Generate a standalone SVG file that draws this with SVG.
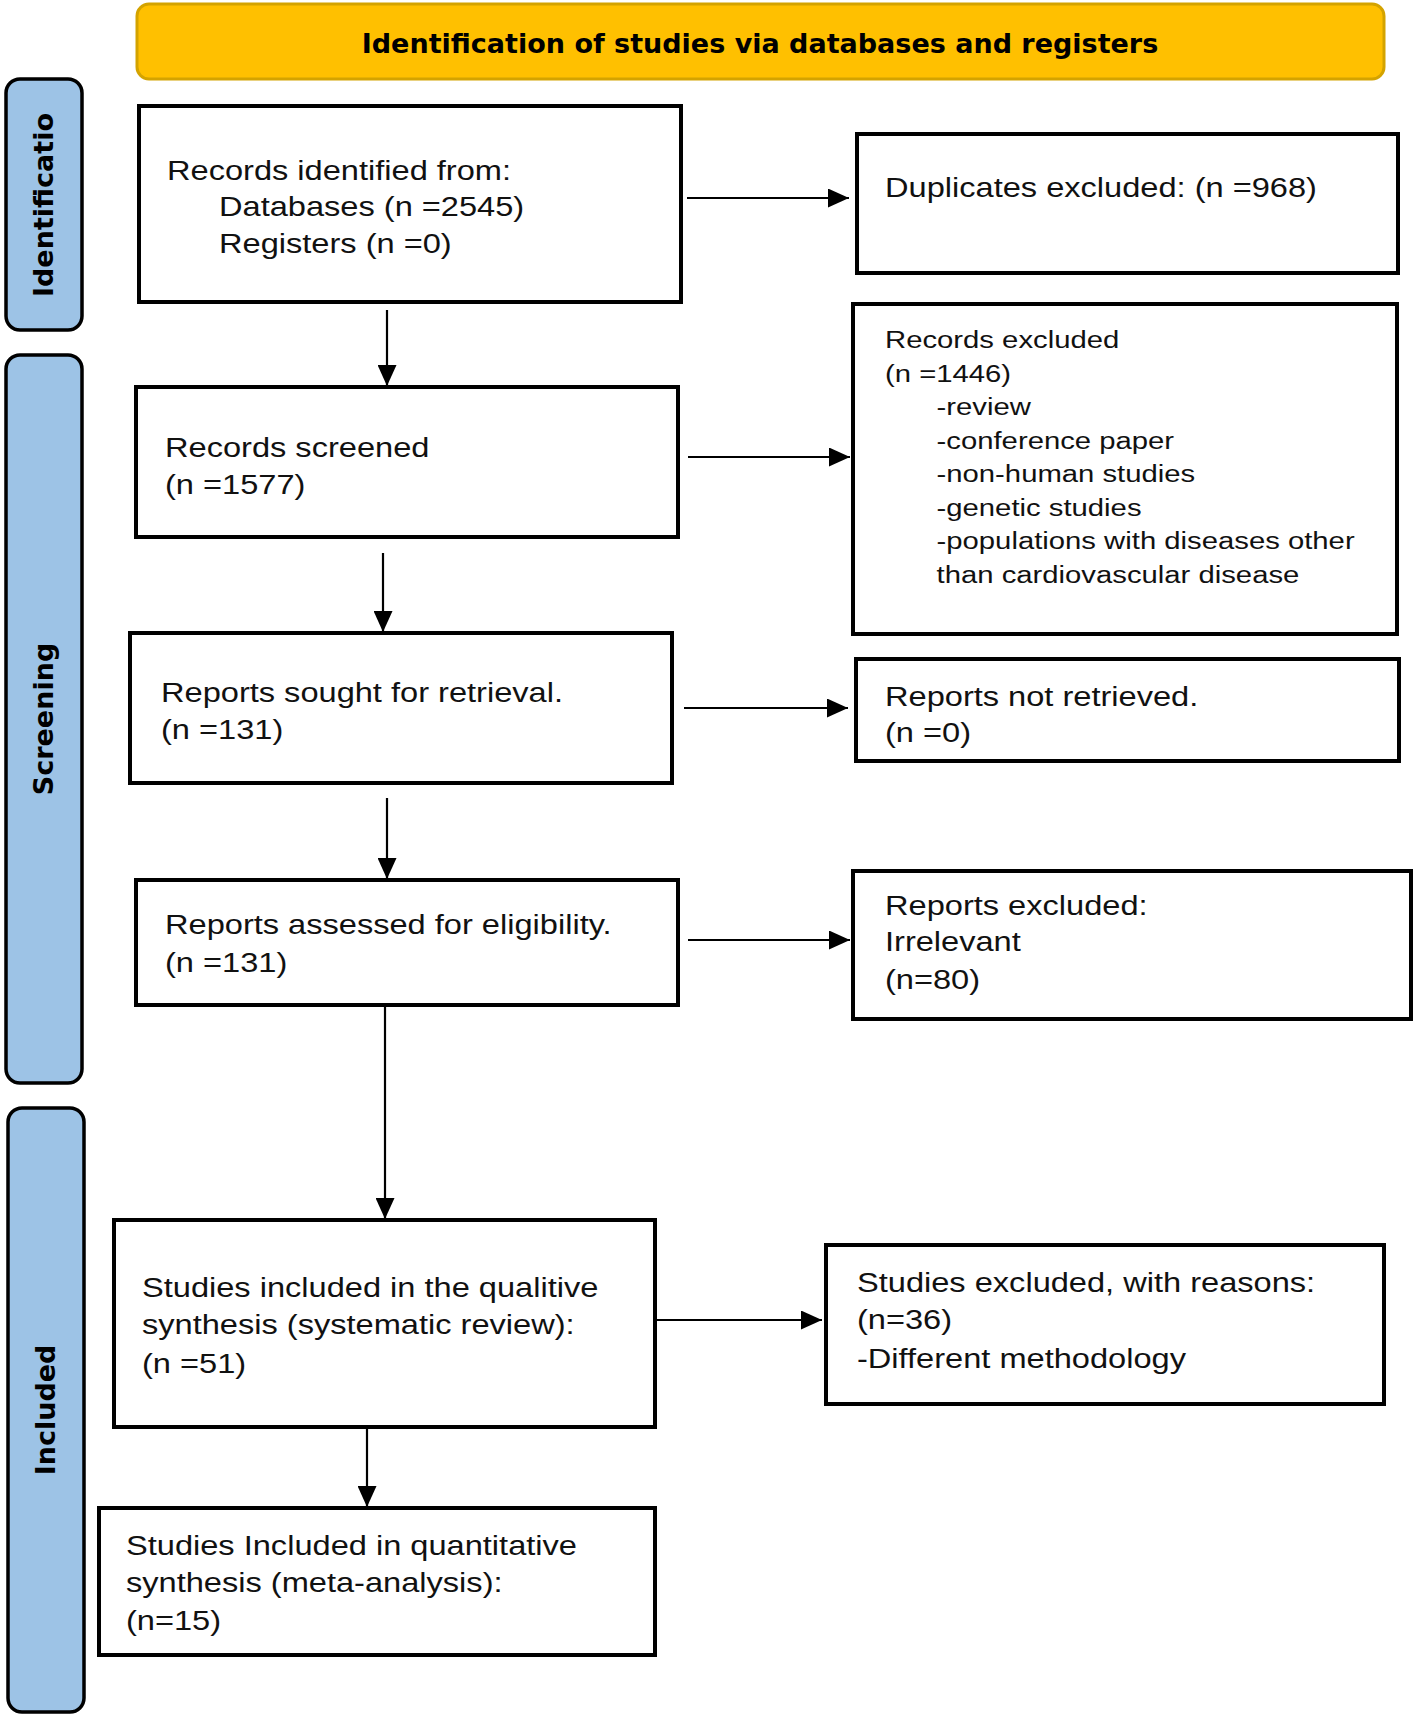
<svg xmlns="http://www.w3.org/2000/svg" width="1416" height="1719" viewBox="0 0 1416 1719">
<style>
.box{fill:#fff;stroke:#000;stroke-width:4}
.pill{fill:#9DC3E6;stroke:#000;stroke-width:3.5}
.hdr{fill:#FFC000;stroke:#D4A300;stroke-width:3}
.t{font-family:"Liberation Sans",Arial,sans-serif;font-size:27.5px;fill:#111}
.ts{font-family:"Liberation Sans",Arial,sans-serif;font-size:24.7px;fill:#111}
.b{font-family:"DejaVu Sans",Verdana,sans-serif;font-weight:bold;font-size:27px;fill:#000;text-anchor:middle}
.c{stroke:#000;stroke-width:2.2;fill:none}
</style>
<defs>
<marker id="ah" markerWidth="21" markerHeight="19" refX="21" refY="9.5" orient="auto" markerUnits="userSpaceOnUse">
<path d="M0,0 L21,9.5 L0,19 Z" fill="#000"/>
</marker>
</defs>
<rect width="1416" height="1719" fill="#fff"/>

<g id="header">
<rect class="hdr" x="137" y="4" width="1247" height="75" rx="12"/>
<text class="b" x="760" y="53">Identification of studies via databases and registers</text>
</g>

<g id="phase-identification">
<rect class="pill" x="6" y="79" width="76" height="251" rx="14"/>
<text class="b" transform="translate(53,205) rotate(-90)">Identificatio</text>
</g>
<g id="phase-screening">
<rect class="pill" x="6" y="355" width="76" height="728" rx="14"/>
<text class="b" transform="translate(53,719) rotate(-90)">Screening</text>
</g>
<g id="phase-included">
<rect class="pill" x="8" y="1108" width="76" height="604" rx="14"/>
<text class="b" transform="translate(55,1410) rotate(-90)">Included</text>
</g>

<g id="records-identified">
<rect class="box" x="139" y="106" width="542" height="196"/>
<text class="t" transform="translate(167,180) scale(1.185,1)"><tspan x="0" y="0">Records identified from:</tspan><tspan x="43.9" y="36">Databases (n =2545)</tspan><tspan x="43.9" y="73">Registers (n =0)</tspan></text>
</g>

<g id="duplicates-excluded">
<rect class="box" x="857" y="134" width="541" height="139"/>
<text class="t" transform="translate(885,197) scale(1.185,1)">Duplicates excluded: (n =968)</text>
</g>

<g id="records-screened">
<rect class="box" x="136" y="387" width="542" height="150"/>
<text class="t" transform="translate(165,457) scale(1.185,1)"><tspan x="0" y="0">Records screened</tspan><tspan x="0" y="37">(n =1577)</tspan></text>
</g>

<g id="records-excluded">
<rect class="box" x="853" y="304" width="544" height="330"/>
<text class="ts" transform="translate(885,348) scale(1.185,1)"><tspan x="0" y="0">Records excluded</tspan><tspan x="0" y="34">(n =1446)</tspan><tspan x="43.5" y="67">-review</tspan><tspan x="43.5" y="101">-conference paper</tspan><tspan x="43.5" y="134">-non-human studies</tspan><tspan x="43.5" y="168">-genetic studies</tspan><tspan x="43.5" y="201">-populations with diseases other</tspan><tspan x="43.5" y="235">than cardiovascular disease</tspan></text>
</g>

<g id="reports-sought">
<rect class="box" x="130" y="633" width="542" height="150"/>
<text class="t" transform="translate(161,702) scale(1.185,1)"><tspan x="0" y="0">Reports sought for retrieval.</tspan><tspan x="0" y="37">(n =131)</tspan></text>
</g>

<g id="reports-not-retrieved">
<rect class="box" x="856" y="659" width="543" height="102"/>
<text class="t" transform="translate(885,706) scale(1.185,1)"><tspan x="0" y="0">Reports not retrieved.</tspan><tspan x="0" y="36">(n =0)</tspan></text>
</g>

<g id="reports-assessed">
<rect class="box" x="136" y="880" width="542" height="125"/>
<text class="t" transform="translate(165,934) scale(1.185,1)"><tspan x="0" y="0">Reports assessed for eligibility.</tspan><tspan x="0" y="38">(n =131)</tspan></text>
</g>

<g id="reports-excluded">
<rect class="box" x="853" y="871" width="558" height="148"/>
<text class="t" transform="translate(885,915) scale(1.185,1)"><tspan x="0" y="0">Reports excluded:</tspan><tspan x="0" y="36">Irrelevant</tspan><tspan x="0" y="74">(n=80)</tspan></text>
</g>

<g id="studies-qualitative">
<rect class="box" x="114" y="1220" width="541" height="207"/>
<text class="t" transform="translate(142,1297) scale(1.185,1)"><tspan x="0" y="0">Studies included in the qualitive</tspan><tspan x="0" y="37">synthesis (systematic review):</tspan><tspan x="0" y="76">(n =51)</tspan></text>
</g>

<g id="studies-excluded">
<rect class="box" x="826" y="1245" width="558" height="159"/>
<text class="t" transform="translate(857,1292) scale(1.185,1)"><tspan x="0" y="0">Studies excluded, with reasons:</tspan><tspan x="0" y="37">(n=36)</tspan><tspan x="0" y="76">-Different methodology</tspan></text>
</g>

<g id="studies-quantitative">
<rect class="box" x="99" y="1508" width="556" height="147"/>
<text class="t" transform="translate(126,1555) scale(1.185,1)"><tspan x="0" y="0">Studies Included in quantitative</tspan><tspan x="0" y="37">synthesis (meta-analysis):</tspan><tspan x="0" y="75">(n=15)</tspan></text>
</g>

<g id="connectors">
<line class="c" x1="687" y1="198" x2="849" y2="198" marker-end="url(#ah)"/>
<line class="c" x1="387" y1="310" x2="387" y2="386" marker-end="url(#ah)"/>
<line class="c" x1="688" y1="457" x2="850" y2="457" marker-end="url(#ah)"/>
<line class="c" x1="383" y1="553" x2="383" y2="632" marker-end="url(#ah)"/>
<line class="c" x1="684" y1="708" x2="848" y2="708" marker-end="url(#ah)"/>
<line class="c" x1="387" y1="798" x2="387" y2="879" marker-end="url(#ah)"/>
<line class="c" x1="688" y1="940" x2="850" y2="940" marker-end="url(#ah)"/>
<line class="c" x1="385" y1="1006" x2="385" y2="1219" marker-end="url(#ah)"/>
<line class="c" x1="655" y1="1320" x2="822" y2="1320" marker-end="url(#ah)"/>
<line class="c" x1="367" y1="1429" x2="367" y2="1507" marker-end="url(#ah)"/>
</g>
</svg>
